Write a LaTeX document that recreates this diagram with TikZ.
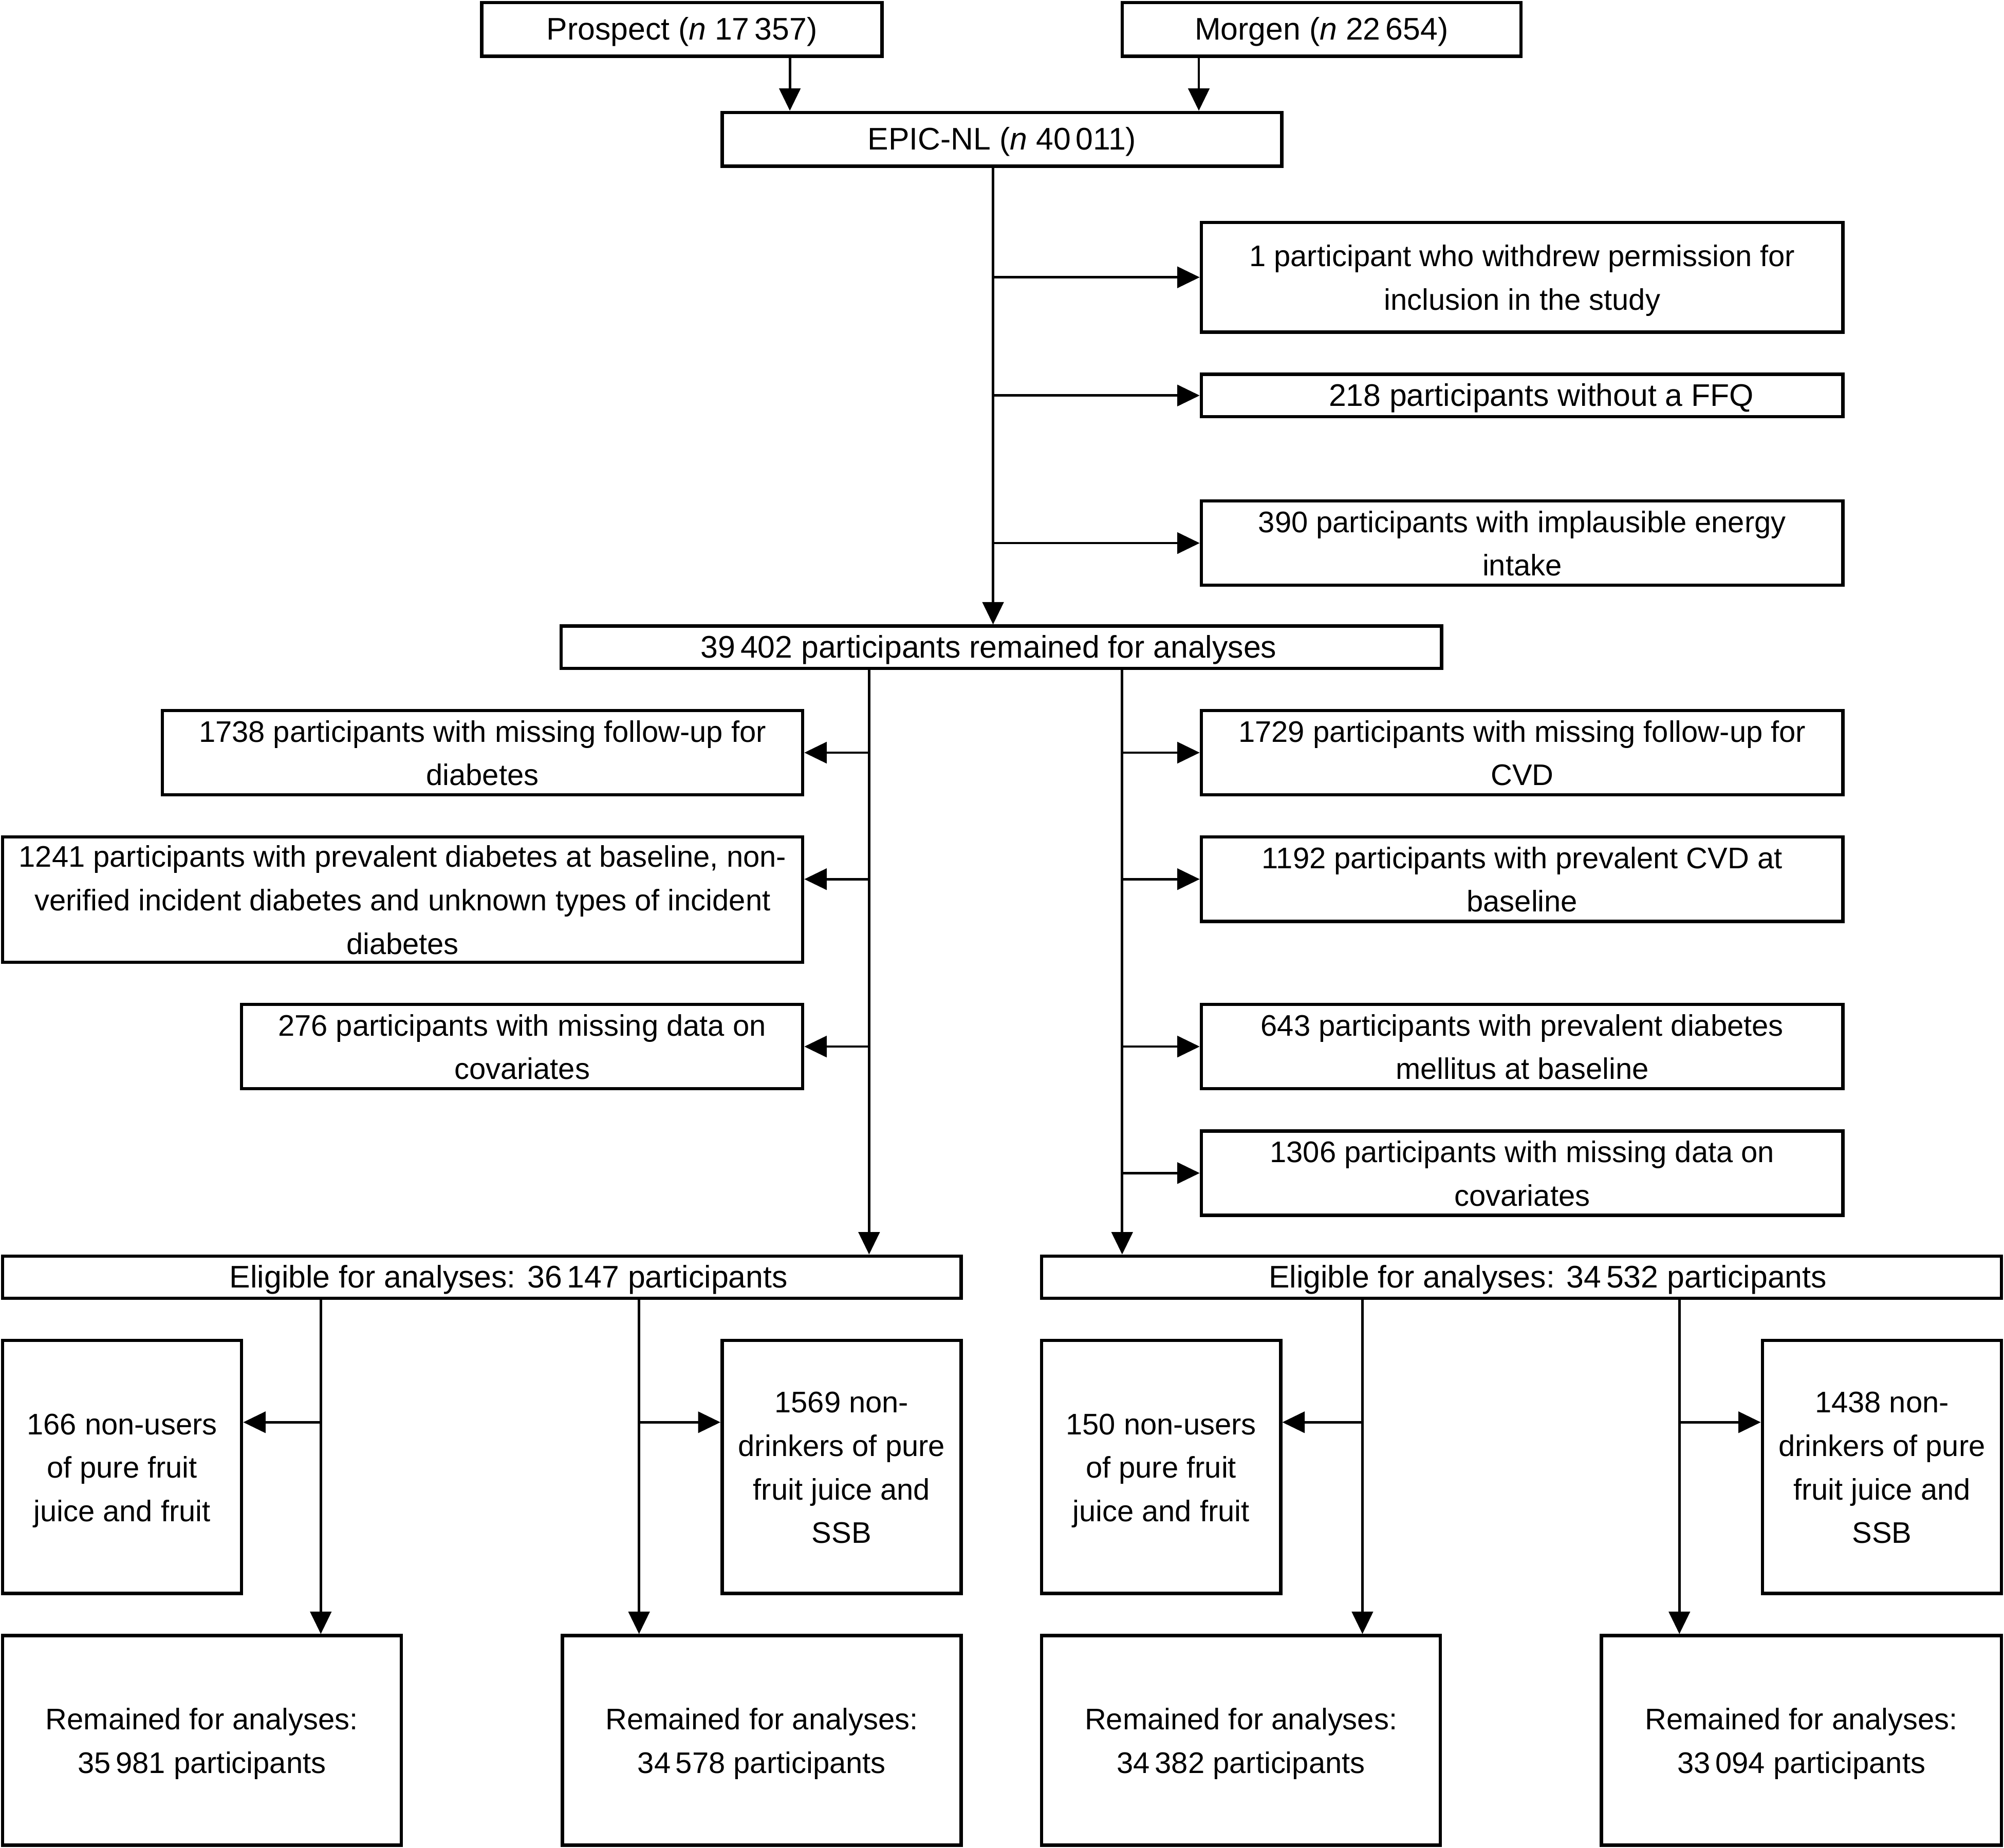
\documentclass[tikz,border=0pt]{standalone}
\usepackage{fontspec}
\setmainfont{Liberation Sans}
\usepackage{tikz}
\usetikzlibrary{arrows.meta}

\newcommand{\bstrut}{\rule[-0.22em]{0pt}{1.12em}}
\newcommand{\fstrut}{\rule{0pt}{0.95em}}
\newcommand{\lstrut}{\rule[-0.21em]{0pt}{0.21em}}
\tikzset{
  box/.style={draw,line width=1.5pt,inner sep=0pt,align=center,fill=white},
  one/.style={box,font=\fontsize{13.9}{19.35}\selectfont,
    execute at begin node=\bstrut,execute at end node=\bstrut},
  multi/.style={box,font=\fontsize{13.25}{19.35}\selectfont},
  sz/.style n args={2}{minimum width=#1*0.02cm,minimum height=#2*0.02cm},
  arr/.style={-{Triangle[length=0.35cm,width=0.33cm]},line width=1.1pt}
}

\begin{document}
\begin{tikzpicture}[x=0.02cm,y=-0.02cm]
\useasboundingbox (0,0) rectangle (1568,1446);

% cohorts
\node[one,sz={313}{42}] (prospect) at (533.5,23) {Prospect (\textit{n} 17\,357)};
\node[one,sz={312}{42}] (morgen) at (1034,23) {Morgen (\textit{n} 22\,654)};
\node[one,sz={438}{42}] (epic) at (784,109) {EPIC-NL (\textit{n} 40\,011)};

% first exclusions
\node[multi,sz={502}{86}] (excl1) at (1191,217) {\fstrut 1 participant who withdrew permission for\\inclusion in the study\lstrut};
\node[one,sz={502}{33}] (excl2) at (1191,309.5) {\hspace*{0.6cm}218 participants without a FFQ};
\node[multi,sz={502}{66}] (excl3) at (1191,425) {\fstrut 390 participants with implausible energy\\intake\lstrut};
\node[one,sz={689}{33}] (remain) at (783.5,506.5) {39\,402 participants remained for analyses\hspace*{0.4cm}};

% diabetes side
\node[multi,sz={501}{66}] (dia1) at (377.5,589) {\fstrut 1738 participants with missing follow-up for\\diabetes\lstrut};
\node[multi,sz={626}{98}] (dia2) at (315,704) {\fstrut 1241 participants with prevalent diabetes at baseline, non-\\verified incident diabetes and unknown types of incident\\diabetes\lstrut};
\node[multi,sz={439}{66}] (dia3) at (408.5,819) {\fstrut 276 participants with missing data on\\covariates\lstrut};

% CVD side
\node[multi,sz={502}{66}] (cvd1) at (1191,589) {\fstrut 1729 participants with missing follow-up for\\CVD\lstrut};
\node[multi,sz={502}{66}] (cvd2) at (1191,688) {\fstrut 1192 participants with prevalent CVD at\\baseline\lstrut};
\node[multi,sz={502}{66}] (cvd3) at (1191,819) {\fstrut 643 participants with prevalent diabetes\\mellitus at baseline\lstrut};
\node[multi,sz={502}{66}] (cvd4) at (1191,918) {\fstrut 1306 participants with missing data on\\covariates\lstrut};

\node[one,sz={750}{33}] (eligL) at (377,999.5) {\hspace*{0.84cm}Eligible for analyses: 36\,147 participants};
\node[one,sz={751}{33}] (eligR) at (1190.5,999.5) {\hspace*{0.82cm}Eligible for analyses: 34\,532 participants};

% last exclusions
\node[multi,sz={187}{198}] (nonuseL) at (95.5,1148) {\fstrut 166 non-users\\of pure fruit\\juice and fruit\lstrut};
\node[multi,sz={187}{198}] (nondrinkL) at (658.5,1148) {\fstrut 1569 non-\\drinkers of pure\\fruit juice and\\SSB\lstrut};
\node[multi,sz={187}{198}] (nonuseR) at (908.5,1148) {\fstrut 150 non-users\\of pure fruit\\juice and fruit\lstrut};
\node[multi,sz={187}{198}] (nondrinkR) at (1472.5,1148) {\fstrut 1438 non-\\drinkers of pure\\fruit juice and\\SSB\lstrut};

\node[multi,sz={312}{164}] (finL1) at (158,1362) {\fstrut Remained for analyses:\\35\,981 participants\lstrut};
\node[multi,sz={312}{164}] (finL2) at (596,1362) {\fstrut Remained for analyses:\\34\,578 participants\lstrut};
\node[multi,sz={312}{164}] (finR1) at (971,1362) {\fstrut Remained for analyses:\\34\,382 participants\lstrut};
\node[multi,sz={313}{164}] (finR2) at (1409.5,1362) {\fstrut Remained for analyses:\\33\,094 participants\lstrut};

% trunk lines
\coordinate (tP) at (618,0);
\coordinate (tM) at (938,0);
\coordinate (tE) at (777,0);
\coordinate (tL) at (680,0);
\coordinate (tR) at (878,0);
\coordinate (sL1) at (251,0);
\coordinate (sL2) at (500,0);
\coordinate (sR1) at (1066,0);
\coordinate (sR2) at (1314,0);
\coordinate (lev) at (0,1113);

\draw[arr] (prospect.south -| tP) -- (epic.north -| tP);
\draw[arr] (morgen.south -| tM) -- (epic.north -| tM);
\draw[arr] (epic.south -| tE) -- (remain.north -| tE);
\draw[arr] (tE |- excl1.west) -- (excl1.west);
\draw[arr] (tE |- excl2.west) -- (excl2.west);
\draw[arr] (tE |- excl3.west) -- (excl3.west);

\draw[arr] (remain.south -| tL) -- (eligL.north -| tL);
\draw[arr] (remain.south -| tR) -- (eligR.north -| tR);
\draw[arr] (tL |- dia1.east) -- (dia1.east);
\draw[arr] (tL |- cvd2.west) -- (dia2.east |- cvd2.west);
\draw[arr] (tL |- dia3.east) -- (dia3.east);
\draw[arr] (tR |- cvd1.west) -- (cvd1.west);
\draw[arr] (tR |- cvd2.west) -- (cvd2.west);
\draw[arr] (tR |- cvd3.west) -- (cvd3.west);
\draw[arr] (tR |- cvd4.west) -- (cvd4.west);

\draw[arr] (eligL.south -| sL1) -- (finL1.north -| sL1);
\draw[arr] (eligL.south -| sL2) -- (finL2.north -| sL2);
\draw[arr] (eligR.south -| sR1) -- (finR1.north -| sR1);
\draw[arr] (eligR.south -| sR2) -- (finR2.north -| sR2);
\draw[arr] (sL1 |- lev) -- (nonuseL.east |- lev);
\draw[arr] (sL2 |- lev) -- (nondrinkL.west |- lev);
\draw[arr] (sR1 |- lev) -- (nonuseR.east |- lev);
\draw[arr] (sR2 |- lev) -- (nondrinkR.west |- lev);
\end{tikzpicture}
\end{document}
